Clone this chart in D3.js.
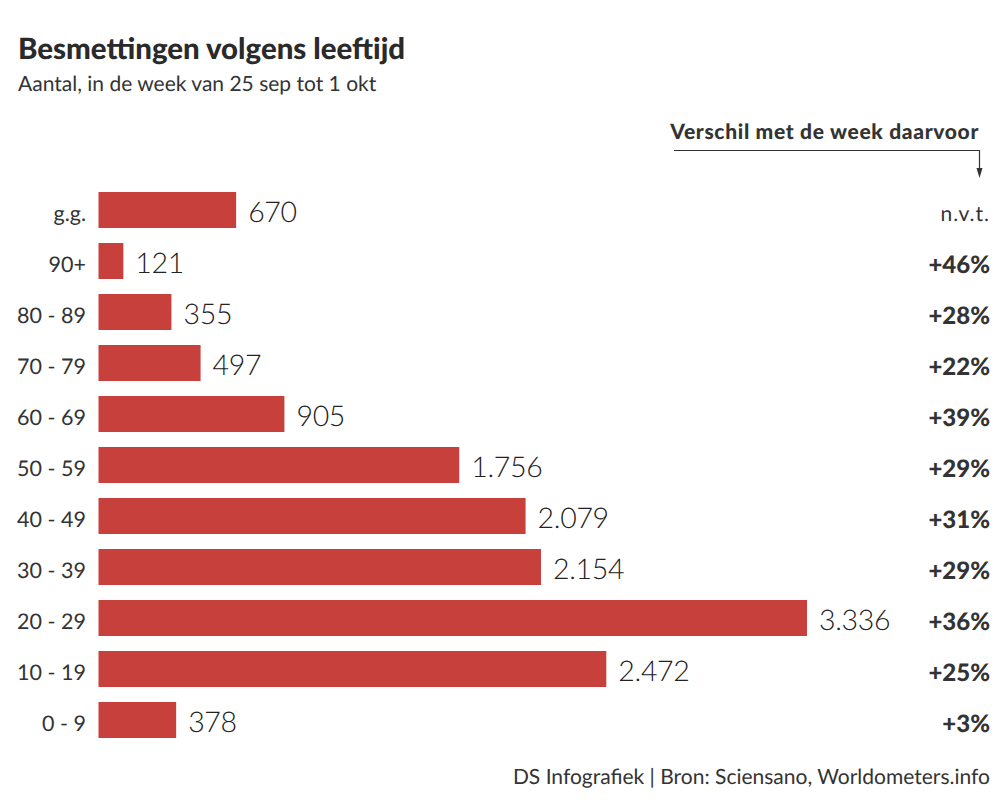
<!DOCTYPE html>
<html lang="nl">
<head>
<meta charset="utf-8">
<script src="https://cdn.jsdelivr.net/npm/d3@7"></script>
<style>
    html, body { margin: 0; padding: 0; background: #fff; }
    svg { display: block; font-family: Lato, sans-serif; text-rendering: geometricPrecision; }
</style>
</head>
<body>
<div id="chart"></div>
<script>
// Data
const ageGroups = ["g.g.", "90+", "80 - 89", "70 - 79", "60 - 69", "50 - 59", "40 - 49", "30 - 39", "20 - 29", "10 - 19", "0 - 9"];
// Printed numbers
const valueLabels = ["670", "121", "355", "497", "905", "1.756", "2.079", "2.154", "3.336", "2.472", "378"];
// Bar lengths as drawn: the 20 - 29 bar is longer in the source than its printed 3.336
const barValues = [670, 121, 355, 497, 905, 1756, 2079, 2154, 3449, 2472, 378];
const changeLabels = ["n.v.t.", "+46%", "+28%", "+22%", "+39%", "+29%", "+31%", "+29%", "+36%", "+25%", "+3%"];

const width = 995;
const height = 800;
const textColor = "#333";
const barColor = "#c8403c";

const svg = d3.select("#chart")
    .append("svg")
    .attr("width", width)
    .attr("height", height);

const x = d3.scaleLinear()
    .domain([0, d3.max(barValues)])
    .range([98.5, 807]);

const y = d3.scaleBand()
    .domain(ageGroups)
    .range([192, 738])
    .paddingInner(15 / 51)
    .paddingOuter(0);

// Title
svg.append("text")
    .attr("x", 18)
    .attr("y", 59)
    .style("font-size", "29.4px")
    .style("font-weight", "900")
    .style("fill", "#2a2a2a")
    .text("Besmettingen volgens leeftijd");

svg.append("text")
    .attr("x", 18)
    .attr("y", 91)
    .style("font-size", "21px")
    .style("fill", textColor)
    .text("Aantal, in de week van 25 sep tot 1 okt");

// Header of the right column, with its arrow
svg.append("text")
    .attr("x", 979)
    .attr("y", 139)
    .attr("text-anchor", "end")
    .style("font-size", "21px")
    .style("font-weight", "900")
    .style("letter-spacing", "0.68px")
    .style("fill", textColor)
    .text("Verschil met de week daarvoor");

svg.append("path")
    .attr("d", "M674,150.5H979.5V170")
    .attr("fill", "none")
    .attr("stroke", textColor)
    .attr("stroke-width", 1.2);

svg.append("path")
    .attr("d", "M976.5,168H982.5L979.5,178Z")
    .attr("fill", textColor);

// Age axis
const yAxis = svg.append("g")
    .attr("transform", "translate(86,4)")
    .call(d3.axisLeft(y).tickSize(0).tickPadding(0));

yAxis.select(".domain").remove();
yAxis.selectAll("text")
    .style("font-family", "Lato, sans-serif")
    .style("font-size", "21.5px")
    .style("fill", textColor);

// Bars
svg.append("g")
    .selectAll("rect")
    .data(ageGroups)
    .join("rect")
    .attr("x", x(0))
    .attr("y", d => y(d))
    .attr("width", (d, i) => x(barValues[i]) - x(0))
    .attr("height", y.bandwidth())
    .attr("fill", barColor);

// Value labels
svg.append("g")
    .selectAll("text")
    .data(ageGroups)
    .join("text")
    .attr("x", (d, i) => x(barValues[i]) + 12)
    .attr("y", d => y(d) + y.bandwidth() / 2 + 2)
    .attr("dy", "0.35em")
    .style("font-size", "28.5px")
    .style("font-weight", "300")
    .style("letter-spacing", "-0.3px")
    .style("fill", "#222")
    .text((d, i) => valueLabels[i]);

// Change column
svg.append("g")
    .selectAll("text")
    .data(ageGroups)
    .join("text")
    .attr("x", 990)
    .attr("y", d => y(d) + y.bandwidth() / 2 + 4)
    .attr("dy", "0.35em")
    .attr("text-anchor", "end")
    .style("font-size", (d, i) => i === 0 ? "21px" : "24px")
    .style("font-weight", (d, i) => i === 0 ? "400" : "900")
    .style("letter-spacing", (d, i) => i === 0 ? "1px" : null)
    .style("fill", textColor)
    .text((d, i) => changeLabels[i]);

// Source
svg.append("text")
    .attr("x", 990)
    .attr("y", 784)
    .attr("text-anchor", "end")
    .style("font-size", "21px")
    .style("fill", textColor)
    .text("DS Infografiek | Bron: Sciensano, Worldometers.info");
</script>
</body>
</html>
